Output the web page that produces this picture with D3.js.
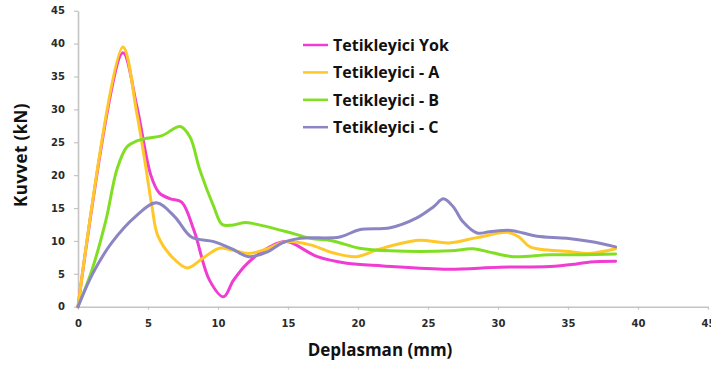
<!DOCTYPE html>
<html>
<head>
<meta charset="utf-8">
<script src="https://cdn.jsdelivr.net/npm/d3@7"></script>
<style>
  html, body { margin: 0; padding: 0; background: #fff; }
  svg { display: block; }
</style>
</head>
<body>
<svg id="chart" width="711" height="367"></svg>
<script>
// Force–displacement curves for four trigger configurations
const seriesNames = ["Tetikleyici Yok", "Tetikleyici - A", "Tetikleyici - B", "Tetikleyici - C"];
const seriesColors = ["#f03cd2", "#ffc829", "#80df22", "#8c85c4"];

const yokX = [0, 3.2, 4.2, 5.2, 5.8, 6.6, 7.4, 8.3, 9.4, 10.4, 11.1, 12.1, 13.7, 14.9, 17.1, 19.2, 21.8, 26.4, 30.1, 33.7, 35.6, 36.6, 38.4];
const yokY = [0, 38.6, 30.5, 20.0, 17.3, 16.4, 15.9, 11.5, 4.0, 1.5, 4.0, 6.6, 9.1, 9.9, 7.6, 6.6, 6.2, 5.7, 6.0, 6.1, 6.5, 6.8, 6.9];

const aX = [0, 3.2, 4.2, 4.8, 5.3, 5.7, 6.7, 7.8, 9.0, 10.1, 11.0, 12.2, 13.5, 14.9, 16.6, 18.2, 19.9, 21.3, 22.8, 24.4, 26.5, 28.5, 30.7, 31.5, 32.3, 35.1, 36.5, 38.4];
const aY = [0, 39.5, 29.4, 21.8, 15.0, 10.8, 7.6, 5.9, 7.5, 8.9, 8.6, 8.1, 8.8, 9.9, 9.4, 8.2, 7.6, 8.6, 9.5, 10.1, 9.7, 10.5, 11.3, 10.6, 9.1, 8.4, 8.1, 8.8];

const bX = [0, 1.0, 2.0, 2.8, 3.5, 4.2, 4.9, 6.0, 7.3, 8.0, 8.7, 9.7, 10.3, 11.0, 12.0, 13.0, 14.9, 16.6, 18.2, 20.1, 22.3, 26.6, 28.2, 29.6, 31.1, 33.7, 36.0, 38.4];
const bY = [0, 5.6, 13.2, 21.0, 24.3, 25.2, 25.6, 26.0, 27.4, 25.8, 20.8, 15.2, 12.5, 12.4, 12.8, 12.4, 11.4, 10.4, 10.0, 8.9, 8.5, 8.5, 8.8, 8.2, 7.6, 7.9, 7.9, 8.0];

const cX = [0, 1.07, 2.4, 4.1, 5.6, 6.9, 8.1, 9.7, 11.0, 12.2, 13.5, 14.6, 15.9, 18.7, 20.1, 22.3, 24.2, 25.4, 26.1, 26.8, 27.5, 28.5, 29.4, 30.9, 31.8, 32.8, 34.9, 36.6, 38.4];
const cY = [0, 5.1, 9.7, 13.7, 15.8, 13.7, 10.6, 9.9, 8.8, 7.6, 8.3, 9.7, 10.4, 10.6, 11.7, 12.0, 13.5, 15.2, 16.4, 15.2, 12.9, 11.2, 11.4, 11.6, 11.2, 10.7, 10.4, 9.9, 9.1];

const xTicks = [0, 5, 10, 15, 20, 25, 30, 35, 40, 45];
const yTicks = [0, 5, 10, 15, 20, 25, 30, 35, 40, 45];

const series = [
  { name: seriesNames[0], color: seriesColors[0], x: yokX, y: yokY },
  { name: seriesNames[1], color: seriesColors[1], x: aX, y: aY },
  { name: seriesNames[2], color: seriesColors[2], x: bX, y: bY },
  { name: seriesNames[3], color: seriesColors[3], x: cX, y: cY }
];

const svg = d3.select("#chart");
const plotLeft = 78, plotRight = 708, plotTop = 10.7, plotBottom = 306.7;

const x = d3.scaleLinear().domain([0, 45]).range([plotLeft, plotRight]);
const y = d3.scaleLinear().domain([0, 45]).range([plotBottom, plotTop]);

const tickFont = "'DejaVu Sans', sans-serif";
const titleFont = "'Open Sans', sans-serif";

// Axes
const xAxis = svg.append("g")
  .attr("transform", `translate(0,${plotBottom})`)
  .call(d3.axisBottom(x).tickValues(xTicks).tickSize(3).tickPadding(10).tickSizeOuter(0));
const yAxis = svg.append("g")
  .attr("transform", `translate(${plotLeft},0)`)
  .call(d3.axisLeft(y).tickValues(yTicks).tickSize(4).tickPadding(9).tickSizeOuter(0));

[xAxis, yAxis].forEach(g => {
  g.select(".domain").attr("stroke", "#c4c4c4").attr("stroke-width", 1.6);
  g.selectAll(".tick line").attr("stroke", "#c4c4c4").attr("stroke-width", 1.2);
  g.selectAll(".tick text")
    .attr("fill", "#2a2a2a")
    .style("font-family", tickFont)
    .style("font-weight", "bold")
    .style("font-size", "10px");
});

// Curves
const line = d3.line()
  .x(d => x(d[0]))
  .y(d => y(d[1]))
  .curve(d3.curveCatmullRom.alpha(0.5));

svg.append("g").selectAll("path")
  .data(series)
  .join("path")
  .attr("d", s => line(s.x.map((v, i) => [v, s.y[i]])))
  .attr("fill", "none")
  .attr("stroke", s => s.color)
  .attr("stroke-width", 3)
  .attr("stroke-linejoin", "round")
  .attr("stroke-linecap", "round");

// Legend
const legend = svg.append("g");
series.forEach((s, i) => {
  const ly = 45 + i * 27.4;
  legend.append("line")
    .attr("x1", 303).attr("x2", 328)
    .attr("y1", ly).attr("y2", ly)
    .attr("stroke", s.color).attr("stroke-width", 2.5);
  legend.append("text")
    .attr("x", 333).attr("y", ly + 6)
    .attr("fill", "#111")
    .style("font-family", titleFont)
    .style("font-weight", "bold")
    .style("font-size", "16px")
    .text(s.name);
});

// Axis titles
svg.append("text")
  .attr("x", 380).attr("y", 356)
  .attr("text-anchor", "middle")
  .attr("fill", "#111")
  .style("font-family", titleFont)
  .style("font-weight", "bold")
  .style("font-size", "17px")
  .text("Deplasman (mm)");

svg.append("text")
  .attr("transform", "translate(27,155) rotate(-90)")
  .attr("text-anchor", "middle")
  .attr("fill", "#111")
  .style("font-family", titleFont)
  .style("font-weight", "bold")
  .style("font-size", "17px")
  .style("letter-spacing", "0.4px")
  .text("Kuvvet (kN)");
</script>
</body>
</html>
